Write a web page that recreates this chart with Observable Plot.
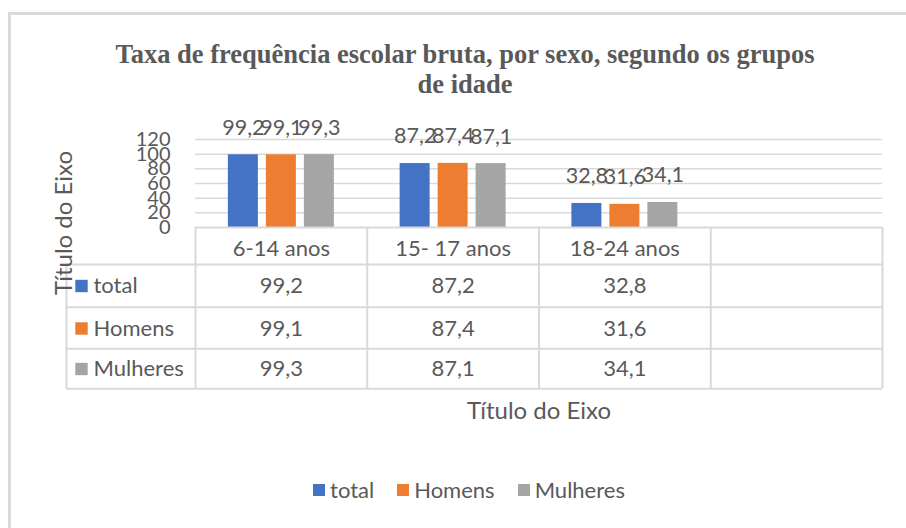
<!DOCTYPE html>
<html><head><meta charset="utf-8">
<script src="https://cdn.jsdelivr.net/npm/d3@7"></script>
<script src="https://cdn.jsdelivr.net/npm/@observablehq/plot@0.6"></script>
<style>
body{margin:0;background:#fff;}
#wrap{position:relative;width:906px;height:528px;overflow:hidden;background:#fff;font-family:Lato,sans-serif;color:#595959;}
#frame{position:absolute;left:8px;top:12px;width:1000px;height:1000px;border:3px solid #d9d9d9;box-sizing:border-box;}
#title{position:absolute;left:65px;width:800px;top:39px;text-align:center;font:bold 26.5px/30px "Liberation Serif",serif;color:#595959;}
#chart{position:absolute;left:0;top:100px;}
#legend{position:absolute;left:0;width:938px;top:476px;height:28px;display:flex;justify-content:center;align-items:center;gap:23px;font-size:22px;line-height:28px;}
.item{display:flex;align-items:center;}
.sw{width:12px;height:12px;margin-right:5px;}
</style></head>
<body><div id="wrap"><div id="frame"></div><div id="title"></div><div id="chart"></div><div id="legend"></div></div>
<script>
// ---- data ----
const titleLines = ["Taxa de frequência escolar bruta, por sexo, segundo os grupos", "de idade"];
const categories = ["6-14 anos", "15- 17 anos", "18-24 anos"];
const series = ["total", "Homens", "Mulheres"];
const totalValues = [99.2, 87.2, 32.8];
const homensValues = [99.1, 87.4, 31.6];
const mulheresValues = [99.3, 87.1, 34.1];
const colors = ["#4472C4", "#ED7D31", "#A5A5A5"];
const yTicks = [0, 20, 40, 60, 80, 100, 120];
const yAxisTitle = "Título do Eixo";
const xAxisTitle = "Título do Eixo";

const values = [totalValues, homensValues, mulheresValues];
const xDomain = [...categories, " "]; // empty fourth column of the data table

// ---- layout ----
const W = 906, H = 340, ML = 195, MR = 24, MT = 39, MB = 213;
const bw = (W - ML - MR) / xDomain.length;
const barW = 30;
const offsets = [-38, 0, 38];
const rowDy = [58.5, 101, 141.5];
const headerDy = 21.5;
const ink = "#595959";
const gridColor = "#d9d9d9";

const rows = [];
series.forEach((s, i) => categories.forEach((c, j) => rows.push({series: s, si: i, cat: c, value: values[i][j]})));
const fmt = v => d3.format(".1f")(v).replace(".", ",");

document.getElementById("title").innerHTML = titleLines.join("<br>");

const marks = [];
// gridlines
marks.push(Plot.ruleY(yTicks.filter(t => t > 0), {y: d => d, stroke: gridColor, strokeWidth: 1.5}));
// bars + labels
series.forEach((s, i) => {
  const d = rows.filter(r => r.series === s);
  marks.push(Plot.barY(d, {x: "cat", y: "value", fill: colors[i], dx: offsets[i],
    insetLeft: (bw - barW) / 2, insetRight: (bw - barW) / 2}));
  marks.push(Plot.text(d, {x: "cat", y: "value", text: r => fmt(r.value), dx: offsets[i], dy: -27, fontSize: 21.5, fill: ink}));
});
// y tick labels
marks.push(Plot.text(yTicks, {y: d => d, text: d => String(d), frameAnchor: "left", textAnchor: "end", lineAnchor: "middle", dx: -25, fontSize: 20, fill: ink}));

// data table lines
const line = {stroke: gridColor, strokeWidth: 2};
marks.push(Plot.ruleY([0], {y: d => d, ...line}));
[37, 79.7, 121.3, 161.3].forEach(dy => marks.push(Plot.ruleY([0], {y: d => d, ...line, dy, insetLeft: -129})));
marks.push(Plot.ruleX(xDomain, {x: d => d, ...line, dx: -bw / 2, insetTop: 88, insetBottom: -161.3}));
marks.push(Plot.ruleX([xDomain[xDomain.length - 1]], {x: d => d, ...line, dx: bw / 2, insetTop: 88, insetBottom: -161.3}));
marks.push(Plot.ruleX([xDomain[0]], {x: d => d, ...line, dx: -bw / 2 - 129, insetTop: 125, insetBottom: -161.3}));

// table header
marks.push(Plot.text(categories, {x: d => d, text: d => d, frameAnchor: "bottom", lineAnchor: "middle", dy: headerDy, fontSize: 22, fill: ink}));
// table rows
series.forEach((s, i) => {
  const d = rows.filter(r => r.series === s);
  marks.push(Plot.text(d, {x: "cat", text: r => fmt(r.value), frameAnchor: "bottom", lineAnchor: "middle", dy: rowDy[i], fontSize: 22, fill: ink}));
  marks.push(Plot.text([s], {text: d => d, frameAnchor: "bottom-left", textAnchor: "start", lineAnchor: "middle", dx: -102, dy: rowDy[i], fontSize: 22, fill: ink}));
  marks.push(Plot.dot([s], {frameAnchor: "bottom-left", symbol: "square", r: 7, fill: colors[i], stroke: "none", dx: -114, dy: rowDy[i]}));
});

// axis titles
marks.push(Plot.text([yAxisTitle], {text: d => d, frameAnchor: "bottom-left", textAnchor: "middle", lineAnchor: "middle", rotate: -90, dx: -131, dy: -4.5, fontSize: 24, fill: ink}));
marks.push(Plot.text([xAxisTitle], {text: d => d, frameAnchor: "bottom", textAnchor: "middle", lineAnchor: "middle", dy: 184, fontSize: 24, fill: ink}));

const chart = Plot.plot({
  width: W, height: H,
  marginLeft: ML, marginRight: MR, marginTop: MT, marginBottom: MB,
  x: {type: "band", domain: xDomain, padding: 0, round: false, axis: null},
  y: {domain: [0, 120], axis: null},
  style: {fontFamily: "Lato, sans-serif", fontSize: "20px", color: ink, background: "transparent", overflow: "visible"},
  marks
});
document.getElementById("chart").appendChild(chart);

// legend
const legend = document.getElementById("legend");
series.forEach((s, i) => {
  const item = document.createElement("div");
  item.className = "item";
  item.innerHTML = `<span class="sw" style="background:${colors[i]}"></span><span>${s}</span>`;
  legend.appendChild(item);
});
</script>
</body></html>
